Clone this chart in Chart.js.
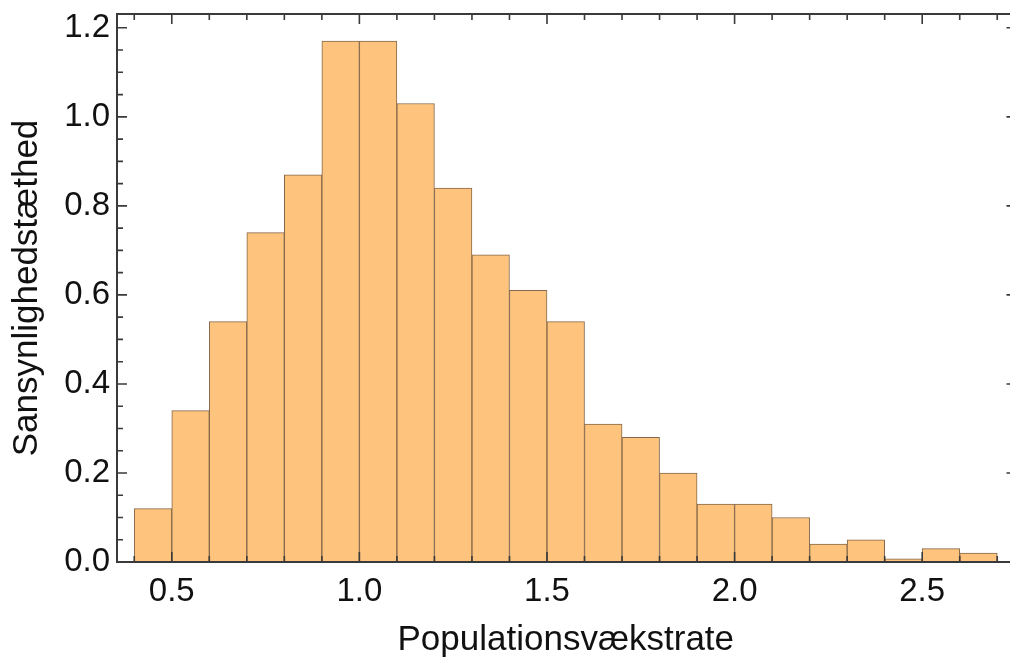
<!DOCTYPE html>
<html>
<head>
<meta charset="utf-8">
<script src="https://cdn.jsdelivr.net/npm/chart.js@4/dist/chart.umd.min.js"></script>
<style>
  html, body { margin: 0; padding: 0; background: #fff; overflow: hidden; }
  #wrap { width: 1010px; height: 662px; overflow: hidden; position: relative; }
  canvas { display: block; position: absolute; left: 0; top: 0; }
</style>
</head>
<body>
<div id="wrap"><canvas id="histogram" width="1020" height="662"></canvas></div>
<script>
// venstre kant af hver søjle (bredde 0.1) og tætheden i søjlen
const binLeft = [0.4, 0.5, 0.6, 0.7, 0.8, 0.9, 1.0, 1.1, 1.2, 1.3, 1.4, 1.5,
                 1.6, 1.7, 1.8, 1.9, 2.0, 2.1, 2.2, 2.3, 2.4, 2.5, 2.6];
const density = [0.12, 0.34, 0.54, 0.74, 0.87, 1.17, 1.17, 1.03, 0.84, 0.69, 0.61, 0.54,
                 0.31, 0.28, 0.20, 0.13, 0.13, 0.10, 0.04, 0.05, 0.007, 0.03, 0.02];
const binWidth = 0.1;

const xTicks = [0.5, 1.0, 1.5, 2.0, 2.5];
const xMinorTicks = [0.4, 0.6, 0.7, 0.8, 0.9, 1.1, 1.2, 1.3, 1.4, 1.6, 1.7, 1.8, 1.9,
                     2.1, 2.2, 2.3, 2.4, 2.6, 2.7];
const yTicks = [0.0, 0.2, 0.4, 0.6, 0.8, 1.0, 1.2];
const yMinorTicks = [0.05, 0.1, 0.15, 0.25, 0.3, 0.35, 0.45, 0.5, 0.55, 0.65, 0.7, 0.75,
                     0.85, 0.9, 0.95, 1.05, 1.1, 1.15];

const xTitle = "Populationsvækstrate";
const yTitle = "Sansynlighedstæthed";

const FONT = "'Liberation Sans', Arial, sans-serif";

// akserne skal ikke skubbe plotområdet for at gøre plads til yderste etiketter
const noLabelPadding = s => {
    s.paddingTop = 0; s.paddingBottom = 0;
    s.paddingLeft = 0; s.paddingRight = 0;
};

// ramme med indadvendte streger; højre kant ligger lige uden for billedet
const frameTicks = {
    id: "frameTicks",
    afterDatasetsDraw(chart) {
        const { ctx, chartArea: a, scales: { x, y } } = chart;
        ctx.save();
        ctx.strokeStyle = "#3a3a3a";
        ctx.lineWidth = 1.6;
        ctx.beginPath();
        const tickX = (v, len) => {
            const px = x.getPixelForValue(v);
            ctx.moveTo(px, a.bottom); ctx.lineTo(px, a.bottom - len);
            ctx.moveTo(px, a.top); ctx.lineTo(px, a.top + len);
        };
        const tickY = (v, len, lenRight) => {
            const py = y.getPixelForValue(v);
            ctx.moveTo(a.left, py); ctx.lineTo(a.left + len, py);
            ctx.moveTo(a.right, py); ctx.lineTo(a.right - lenRight, py);
        };
        xTicks.forEach(v => tickX(v, 10));
        xMinorTicks.forEach(v => tickX(v, 6));
        yTicks.forEach(v => tickY(v, 10, 8));
        yMinorTicks.forEach(v => tickY(v, 6, 4));
        ctx.stroke();
        ctx.lineWidth = 2;
        ctx.strokeRect(a.left, a.top, a.right - a.left, a.bottom - a.top);
        ctx.restore();
    }
};

new Chart(document.getElementById("histogram"), {
    type: "bar",
    data: {
        datasets: [{
            data: binLeft.map((b, i) => ({ x: b + binWidth / 2, y: density[i] })),
            backgroundColor: "#fec47d",
            borderColor: "#86674a",
            borderWidth: 1,
            borderSkipped: false,
            barPercentage: 1,
            categoryPercentage: 1
        }]
    },
    options: {
        responsive: false,
        animation: false,
        layout: { padding: { top: 14, right: 5.5, left: 0, bottom: 0 } },
        plugins: { legend: { display: false }, tooltip: { enabled: false } },
        scales: {
            x: {
                type: "linear",
                min: 0.354,
                max: 2.746,
                offset: false,
                grid: { display: false, drawTicks: false, offset: false },
                border: { display: false },
                afterBuildTicks: s => { s.ticks = xTicks.map(v => ({ value: v })); },
                afterFit: s => { s.height = 100; noLabelPadding(s); },
                ticks: {
                    padding: 10,
                    color: "#111",
                    font: { family: FONT, size: 33 },
                    callback: v => v.toFixed(1)
                },
                title: {
                    display: true,
                    text: xTitle,
                    color: "#111",
                    font: { family: FONT, size: 35, lineHeight: 1 },
                    padding: { top: 0, bottom: 4 }
                }
            },
            y: {
                min: 0,
                max: 1.231,
                grid: { display: false, drawTicks: false },
                border: { display: false },
                afterBuildTicks: s => { s.ticks = yTicks.map(v => ({ value: v })); },
                afterFit: s => { s.width = 117; noLabelPadding(s); },
                ticks: {
                    padding: 7,
                    color: "#111",
                    font: { family: FONT, size: 33 },
                    callback: v => v.toFixed(1)
                },
                title: {
                    display: true,
                    text: yTitle,
                    color: "#111",
                    font: { family: FONT, size: 35, lineHeight: 1 },
                    padding: { top: 10, bottom: 0 }
                }
            }
        }
    },
    plugins: [frameTicks]
});
</script>
</body>
</html>
